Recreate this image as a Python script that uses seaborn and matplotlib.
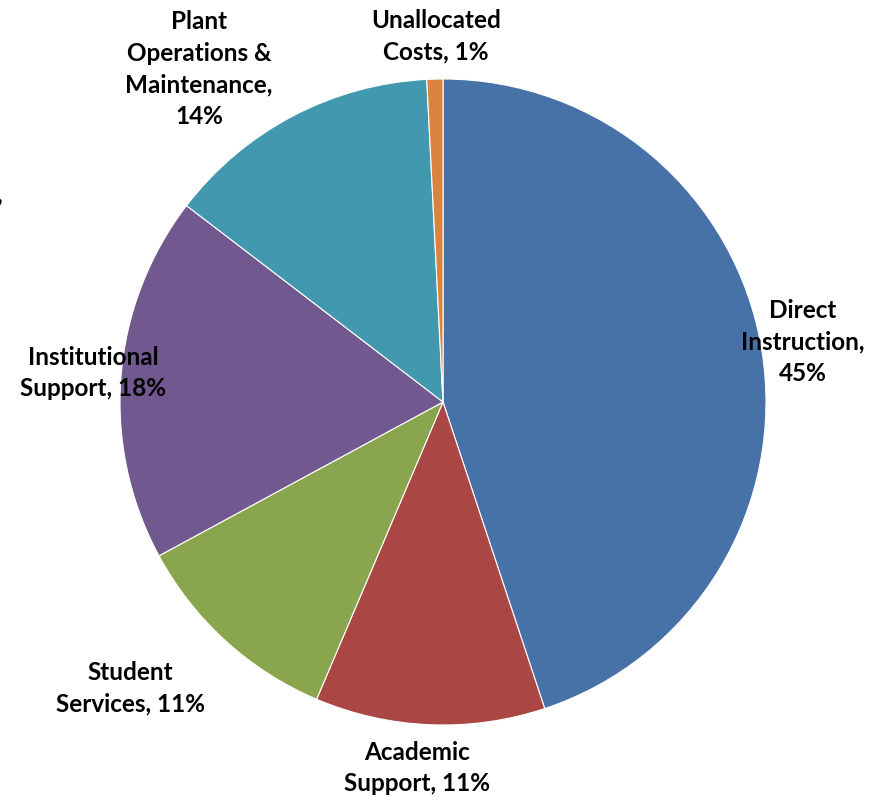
import matplotlib
matplotlib.use("Agg")
import matplotlib.pyplot as plt
import seaborn as sns

# spending shares, clockwise from 12 o'clock
categories = ["Direct Instruction", "Academic Support", "Student Services",
              "Institutional Support", "Plant Operations & Maintenance",
              "Unallocated Costs"]
shares = [44.9, 11.5, 10.7, 18.3, 13.8, 0.8]
label_text = ["Direct\nInstruction,\n45%",
              "Academic\nSupport, 11%",
              "Student\nServices, 11%",
              "Institutional\nSupport, 18%",
              "Plant\nOperations &\nMaintenance,\n14%",
              "Unallocated\nCosts, 1%"]
colors = sns.color_palette(["#4672A8", "#AA4744", "#89A54E",
                            "#71588F", "#4198AF", "#DB843D"])

# label centres in pixel coords (x, y from top)
label_pos = [(803, 342), (417, 768), (130, 688), (93, 373), (199, 69), (436, 36)]

W, H = 884, 801
sns.set_style("white")
plt.rcParams["font.family"] = ["Lato", "DejaVu Sans"]

fig = plt.figure(figsize=(W / 100, H / 100), dpi=100)
ax = fig.add_axes([0, 0, 1, 1])

wedges, _ = ax.pie(shares, colors=colors, startangle=90, counterclock=False,
                   center=(443, H - 402), radius=323,
                   wedgeprops=dict(edgecolor="white", linewidth=0.8))

for txt, (x, y) in zip(label_text, label_pos):
    ax.text(x, H - y, txt, ha="center", va="center", fontsize=17.5,
            fontweight="bold", linespacing=1.45, color="black")

# stray clipped label fragment at left edge (also clipped in the original)
ax.text(-3, H - 195, ",", ha="left", va="center", fontsize=17.5,
        fontweight="bold", color="black")

ax.set_xlim(0, W)
ax.set_ylim(0, H)
ax.set_aspect("equal")
ax.axis("off")

fig.savefig("out.png", dpi=100)
